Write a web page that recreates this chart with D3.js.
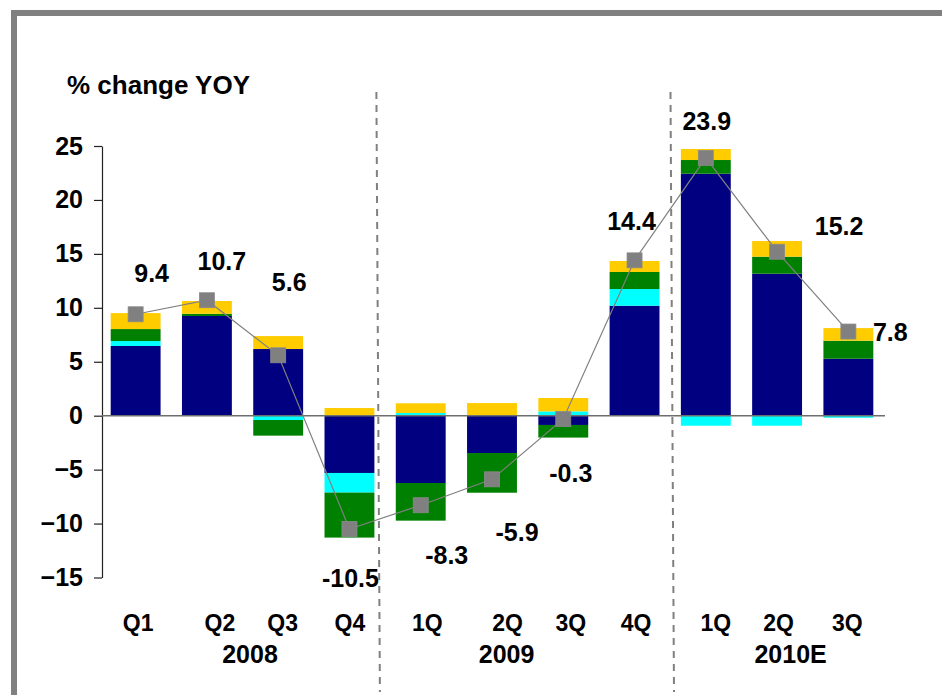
<!DOCTYPE html>
<html>
<head>
<meta charset="utf-8">
<script src="https://cdn.jsdelivr.net/npm/d3@7"></script>
<style>
  body { margin: 0; background: #fff; }
  text { font-family: "Liberation Sans", Arial, sans-serif; font-weight: bold; fill: #000; }
</style>
</head>
<body>
<div id="chart"></div>
<script>
// categories
const quarters = ["Q1", "Q2", "Q3", "Q4", "1Q", "2Q", "3Q", "4Q", "1Q", "2Q", "3Q"]
const years = ["2008", "2008", "2008", "2008", "2009", "2009", "2009", "2009", "2010E", "2010E", "2010E"]
const yearNames = ["2008", "2009", "2010E"]

// stacked components
const navyVals = [6.46, 9.24, 6.18, -5.31, -6.24, -3.46, -0.86, 10.19, 22.43, 13.16, 5.28]
const cyanVals = [0.46, 0, -0.4, -1.82, 0.25, 0, 0.4, 1.55, -0.93, -0.93, -0.19]
const greenVals = [1.11, 0.21, -1.45, -4.17, -3.49, -3.68, -1.17, 1.58, 1.27, 1.58, 1.67]
const yellowVals = [1.48, 1.18, 1.2, 0.71, 0.9, 1.17, 1.24, 1.02, 1.02, 1.45, 1.17]

// total % change YOY (line)
const totalVals = [9.4, 10.7, 5.6, -10.5, -8.3, -5.9, -0.3, 14.4, 23.9, 15.2, 7.8]

const yTicks = [-15, -10, -5, 0, 5, 10, 15, 20, 25]

// layout tweaks (label nudges as in the original)
const labelNudge = [[16, -41], [15, -39], [11, -73], [1, 49], [26, 50], [25, 53], [7.5, 54], [-3, -39], [1, -37], [62, -26], [42, 0]]
const quarterNudge = [2.5, 13, 4.5, 0.5, 6.5, 15.5, 7.5, 1.5, 10, 1.5, -1]
const yearNudge = [7.5, -21, 13.5]

const W = 942, H = 695
const keys = ["navy", "cyan", "green", "yellow"]
const colors = { navy: "#000080", cyan: "#00ffff", green: "#008000", yellow: "#ffcc00" }

const ids = quarters.map((q, i) => years[i] + " " + q)
const rows = ids.map((id, i) => ({
  id: id,
  navy: navyVals[i], cyan: cyanVals[i], green: greenVals[i], yellow: yellowVals[i]
}))

const svg = d3.select("#chart").append("svg")
  .attr("width", W)
  .attr("height", H)

// frame
svg.append("rect").attr("x", 11).attr("y", 10).attr("width", W - 11).attr("height", 6).attr("fill", "#808080")
svg.append("rect").attr("x", 11).attr("y", 10).attr("width", 6).attr("height", H - 10).attr("fill", "#808080")

const x = d3.scaleBand().domain(ids).range([100, 884]).paddingInner(0.3).paddingOuter(0.15)
const y = d3.scaleLinear().domain([-15, 25]).range([577.5, 146])
const cx = i => x(ids[i]) + x.bandwidth() / 2

// title
svg.append("text")
  .attr("x", 67)
  .attr("y", 94)
  .attr("font-size", "26px")
  .text("% change YOY")

// bars
const stack = d3.stack().keys(keys).offset(d3.stackOffsetDiverging)
const series = stack(rows)

svg.append("g").selectAll("g")
  .data(series)
  .join("g")
    .attr("fill", d => colors[d.key])
  .selectAll("rect")
  .data(d => d)
  .join("rect")
    .attr("x", d => x(d.data.id))
    .attr("width", x.bandwidth())
    .attr("y", d => y(Math.max(d[0], d[1])))
    .attr("height", d => Math.abs(y(d[0]) - y(d[1])))

// y axis
const yAxis = svg.append("g")
  .attr("transform", "translate(102,0)")
  .call(d3.axisLeft(y).tickValues(yTicks).tickSize(8).tickSizeOuter(0).tickPadding(11))
yAxis.select(".domain").attr("stroke", "#222").attr("stroke-width", 1.2)
yAxis.selectAll(".tick line").attr("stroke", "#222").attr("stroke-width", 1.2)
yAxis.selectAll(".tick text")
  .attr("font-size", "25px")
  .attr("font-family", "Liberation Sans, Arial, sans-serif")
  .attr("font-weight", "bold")
  .attr("fill", "#000")

// zero line
svg.append("line")
  .attr("x1", 102).attr("x2", 885)
  .attr("y1", y(0)).attr("y2", y(0))
  .attr("stroke", "#6e6e6e")
  .attr("stroke-width", 1.5)

// year separators
const sepTop = [x(ids[3]) + x.bandwidth() + 2, x(ids[7]) + x.bandwidth() + 11]
sepTop.forEach(sx => {
  svg.append("line")
    .attr("x1", sx).attr("x2", sx + 3.5)
    .attr("y1", 92).attr("y2", 692)
    .attr("stroke", "#808080")
    .attr("stroke-width", 2)
    .attr("stroke-dasharray", "7,6")
})

// total line + markers
const line = d3.line()
  .x((d, i) => cx(i))
  .y(d => y(d))

svg.append("path")
  .attr("d", line(totalVals))
  .attr("fill", "none")
  .attr("stroke", "#808080")
  .attr("stroke-width", 1.2)

svg.append("g").selectAll("rect")
  .data(totalVals)
  .join("rect")
    .attr("x", (d, i) => cx(i) - 7.5)
    .attr("y", d => y(d) - 7.5)
    .attr("width", 15)
    .attr("height", 15)
    .attr("fill", "#808080")
    .attr("stroke", "#8a8a8a")
    .attr("stroke-width", 0.8)

// data labels
svg.append("g").selectAll("text")
  .data(totalVals)
  .join("text")
    .attr("x", (d, i) => cx(i) + labelNudge[i][0])
    .attr("y", (d, i) => y(d) + labelNudge[i][1] + 9)
    .attr("text-anchor", "middle")
    .attr("font-size", "25px")
    .text(d => d.toFixed(1))

// category labels
svg.append("g").selectAll("text")
  .data(quarters)
  .join("text")
    .attr("x", (d, i) => cx(i) + quarterNudge[i])
    .attr("y", 631)
    .attr("text-anchor", "middle")
    .attr("font-size", "23px")
    .text(d => d)

svg.append("g").selectAll("text")
  .data(yearNames)
  .join("text")
    .attr("x", (d, j) => {
      const idx = years.map((yr, i) => yr === d ? i : -1).filter(i => i >= 0)
      return (cx(idx[0]) + cx(idx[idx.length - 1])) / 2 + yearNudge[j]
    })
    .attr("y", 663)
    .attr("text-anchor", "middle")
    .attr("font-size", "25px")
    .text(d => d)
</script>
</body>
</html>
